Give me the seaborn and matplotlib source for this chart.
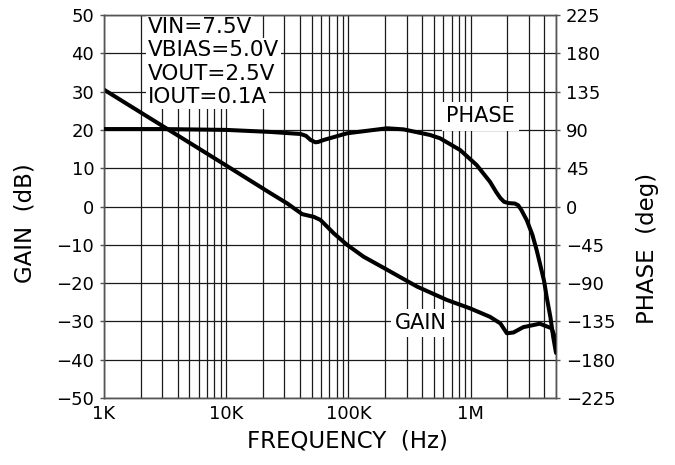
import numpy as np
import pandas as pd
import matplotlib
matplotlib.use("Agg")
import matplotlib.pyplot as plt
import seaborn as sns
from matplotlib.ticker import LogLocator, NullFormatter

# ---- data ----
gain_freq = [1e3, 3.2e3, 1e4, 2.31e4, 3.16e4, 4.19e4, 5.21e4, 5.9e4, 7.59e4, 9.75e4,
             1.33e5, 2.07e5, 3.64e5, 6.4e5, 9.91e5, 1.44e6, 1.75e6, 1.98e6, 2.24e6,
             2.7e6, 3.69e6, 4.6e6, 5.0e6]
gain_db = [30.5, 20.5, 10.7, 3.45, 0.8, -2.0, -2.7, -3.5, -7.0, -10.0,
           -13.1, -16.5, -20.9, -24.4, -26.6, -28.8, -30.5, -33.1, -32.9,
           -31.5, -30.6, -31.8, -34.9]

phase_freq = [1e3, 3e3, 1e4, 2.31e4, 4.06e4, 4.5e4, 4.9e4, 5.38e4, 5.7e4, 6.29e4,
              9.75e4, 2.07e5, 2.83e5, 4.67e5, 5.63e5, 8.2e5, 1.12e6, 1.44e6,
              1.62e6, 1.75e6, 1.88e6, 2.05e6, 2.3e6, 2.45e6, 2.6e6, 2.88e6, 3.2e6,
              3.47e6, 3.69e6, 4.0e6, 4.19e6, 4.5e6, 4.74e6, 5.0e6]
phase_deg = [91, 91, 90, 87.6, 85.2, 83, 78.2, 75.4, 76, 78.2,
             86, 91.9, 90.6, 84, 80.1, 66.4, 48.8, 29.1,
             17, 10, 5.5, 4, 3.5, 1.5, -4, -16, -33,
             -51, -66.7, -88, -106, -130, -153, -172]

x_ticks = [1e3, 1e4, 1e5, 1e6]
x_tick_labels = ["1K", "10K", "100K", "1M"]
gain_ticks = list(range(-50, 51, 10))
phase_ticks = list(range(-225, 226, 45))
conditions = ["VIN=7.5V", "VBIAS=5.0V", "VOUT=2.5V", "IOUT=0.1A"]

gain_df = pd.DataFrame({"freq": gain_freq, "gain": gain_db})
phase_df = pd.DataFrame({"freq": phase_freq, "phase": phase_deg})

sns.set_theme(style="white")
plt.rcParams["font.family"] = ["DejaVu Sans"]
plt.rcParams["text.color"] = "black"
plt.rcParams["axes.labelcolor"] = "black"
plt.rcParams["xtick.color"] = "black"
plt.rcParams["ytick.color"] = "black"


def fmt(v):
    return str(v).replace("-", "\u2212")


W, H = 675, 465
fig = plt.figure(figsize=(W / 100, H / 100), dpi=100)
L, R, T, B = 104, 556, 15, 398
ax = fig.add_axes([L / W, 1 - B / H, (R - L) / W, (B - T) / H])
ax.set_xscale("log")
ax2 = ax.twinx()

sns.lineplot(data=gain_df, x="freq", y="gain", ax=ax, color="black", lw=2.9,
             sort=False, zorder=3)
sns.lineplot(data=phase_df, x="freq", y="phase", ax=ax2, color="black", lw=2.9,
             sort=False, zorder=3)

ax.set_xlim(1e3, 5e6)
ax.set_ylim(-50, 50)
ax2.set_ylim(-225, 225)
ax.set_xticks(x_ticks)
ax.set_xticklabels(x_tick_labels)
ax.xaxis.set_minor_locator(LogLocator(base=10, subs=range(2, 10), numticks=20))
ax.xaxis.set_minor_formatter(NullFormatter())
ax.set_yticks(gain_ticks)
ax.set_yticklabels([fmt(v) for v in gain_ticks])
ax2.set_yticks(phase_ticks)
ax2.set_yticklabels([fmt(v) for v in phase_ticks])

grid_kw = dict(color="#1a1a1a", lw=0.9)
ax.grid(which="major", axis="both", **grid_kw)
ax.grid(which="minor", axis="x", **grid_kw)
ax.set_axisbelow(True)

for a in (ax, ax2):
    for s in a.spines.values():
        s.set_color("#555555")
        s.set_linewidth(1.0)

ax.tick_params(axis="x", which="both", length=0, pad=5, labelsize=13, labelcolor="black")
ax.tick_params(axis="y", which="major", length=3, width=1, pad=4, labelsize=13,
               labelcolor="black", color="#555555", left=True)
ax2.tick_params(axis="y", which="major", length=3, width=1, pad=4, labelsize=13,
                labelcolor="black", color="#555555", right=True)

ax.set_xlabel("FREQUENCY  (Hz)", fontsize=16.5, color="black")
ax.xaxis.set_label_coords((347 - L) / (R - L), (B - 441) / (B - T))
ax.xaxis.label.set_va("center")
ax.set_ylabel("GAIN  (dB)", fontsize=16.5, color="black")
ax.yaxis.set_label_coords((25 - L) / (R - L), (B - 223) / (B - T))
ax.yaxis.label.set_va("center")
ax2.set_ylabel("PHASE  (deg)", fontsize=16.5, color="black")
ax2.yaxis.set_label_coords((648 - L) / (R - L), (B - 248) / (B - T))
ax2.yaxis.label.set_va("center")
ax2.yaxis.label.set_rotation(90)

# condition block, one line each with its own white backing
baselines = [45.3, 39.2, 33.1, 27.0]
for txt, yb in zip(conditions, baselines):
    ax.text(2.29e3, yb, txt, fontsize=15.5, ha="left", va="baseline", zorder=5,
            color="black",
            bbox=dict(boxstyle="square,pad=0.1", fc="white", ec="none"))

ax.text(1.21e6, 23.5, "PHASE", fontsize=15, ha="center", va="center", zorder=5,
        color="black", bbox=dict(boxstyle="square,pad=0.2", fc="white", ec="none"))
ax.text(3.95e5, -30.5, "GAIN", fontsize=15, ha="center", va="center", zorder=5,
        color="black", bbox=dict(boxstyle="square,pad=0.2", fc="white", ec="none"))

fig.savefig("out.png", dpi=100)
